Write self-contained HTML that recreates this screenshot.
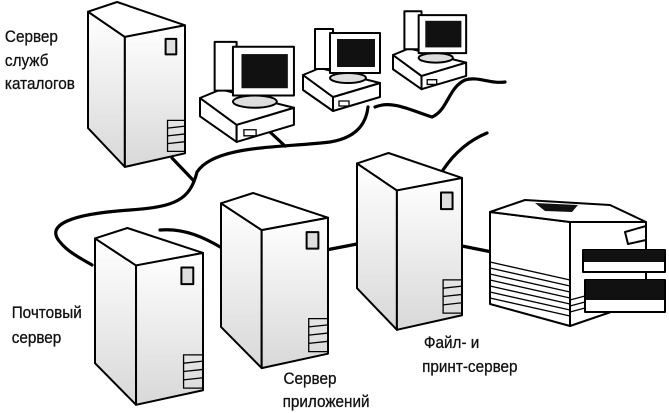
<!DOCTYPE html>
<html><head><meta charset="utf-8"><style>
html,body{margin:0;padding:0;background:#fff;}
svg{display:block;}
text{font-family:"Liberation Sans",Arial,sans-serif;font-size:17px;fill:#111;stroke:#111;stroke-width:0.3;}
.s{stroke:#000;stroke-width:2;fill:#fff;vector-effect:non-scaling-stroke;stroke-linejoin:round;}
.t{stroke:#000;stroke-width:1.3;fill:none;vector-effect:non-scaling-stroke;}
.c{stroke:#000;stroke-width:3.2;fill:none;stroke-linecap:round;}
</style></head><body>
<svg width="669" height="413" viewBox="0 0 669 413" xmlns="http://www.w3.org/2000/svg">
<defs>
<linearGradient id="g" x1="0" y1="0" x2="0" y2="1"><stop offset="0" stop-color="#fff"/><stop offset="1" stop-color="#d8d8d8"/></linearGradient>
<g id="tower">
<polygon class="s" points="0,10 38,36 38,170 0,130" style="fill:url(#g)"/>
<polygon class="s" points="0,10 30,0 100,24 38,36"/>
<polygon class="s" points="38,36 100,24 100,156 38,170" style="fill:url(#g)"/>
<rect class="s" x="80" y="38" width="11" height="16" style="fill:#ddd"/>
<rect class="t" x="82" y="122" width="18" height="32"/>
<line class="t" x1="82" y1="130" x2="100" y2="128"/>
<line class="t" x1="82" y1="138" x2="100" y2="136"/>
<line class="t" x1="82" y1="146" x2="100" y2="144"/>
</g>
<g id="pc">
<polygon class="s" points="0,0 30,22 30,36 0,15"/>
<polygon class="s" points="30,22 77,8 77,22 30,36"/>
<polygon class="s" points="0,0 17,-7 77,8 30,22"/>
<rect class="t" x="36" y="26" width="10" height="5"/>
<ellipse cx="45" cy="3" rx="18" ry="5" class="s" style="fill:#ddd"/>
<rect class="s" x="12" y="-46" width="18" height="40"/>
<rect class="s" x="27" y="-42" width="50" height="40"/>
<rect x="34" y="-36" width="38" height="28" fill="#111"/>
</g>
</defs>

<path class="c" d="M172,158 L193,180"/>
<path class="c" d="M368,107 C366,125 355,138 330,142 C280,148 215,145 197,172 C190,200 175,207 130,210 C70,214 45,225 60,242 C68,252 80,258 92,265"/>
<path class="c" d="M270,132 L285,146"/>
<path class="c" d="M375,107 C392,100 410,110 432,117 C448,110 448,88 465,80 C478,76 490,84 505,82"/>
<path class="c" d="M160,230 C185,228 205,238 222,248"/>
<path class="c" d="M443,170 C455,152 470,140 487,133"/>
<path class="c" d="M326,250 L357,244"/>
<path class="c" d="M462,246 L492,252"/>

<use href="#tower" transform="translate(88,2) scale(0.97)"/>
<use href="#tower" transform="translate(95,228) scale(1.08,1.04)"/>
<use href="#tower" transform="translate(221,193) scale(1.07,1.03)"/>
<use href="#tower" transform="translate(357,153) scale(1.05,1.04)"/>

<use href="#pc" transform="translate(200,98) scale(1.22)"/>
<use href="#pc" transform="translate(303,75)"/>
<use href="#pc" transform="translate(393,55) scale(0.95)"/>

<polygon class="s" points="490,212 570,222 570,326 490,304"/>
<polygon class="s" points="570,222 646,222 646,300 570,326"/>
<polygon class="s" points="490,212 525,200 610,205 646,222 570,222"/>
<polygon points="535,203 578,205 572,212 545,211" fill="#111"/>
<polygon class="s" points="625,232 646,226 646,240 628,244"/>
<g stroke="#000" stroke-width="1.3">
<line x1="490" y1="262" x2="570" y2="280"/><line x1="490" y1="268" x2="570" y2="286"/>
<line x1="490" y1="274" x2="570" y2="292"/><line x1="490" y1="280" x2="570" y2="298"/>
<line x1="490" y1="286" x2="570" y2="304"/><line x1="490" y1="292" x2="570" y2="310"/>
<line x1="490" y1="298" x2="570" y2="316"/><line x1="570" y1="300" x2="600" y2="292"/>
<line x1="570" y1="306" x2="600" y2="298"/><line x1="570" y1="312" x2="600" y2="304"/>
</g>
<polygon class="s" points="583,250 665,250 665,272 583,272"/>
<polygon points="584,250 664,250 664,262 584,262" fill="#111"/>
<polygon class="s" points="585,280 665,280 665,312 585,312"/>
<polygon points="586,280 664,280 664,300 586,300" fill="#111"/>

<g transform="scale(0.9,1)">
<text x="5.5" y="42">Сервер</text>
<text x="5.5" y="66">служб</text>
<text x="5.5" y="89">каталогов</text>
<text x="13" y="318">Почтовый</text>
<text x="13" y="343">сервер</text>
<text x="315" y="384">Сервер</text>
<text x="314" y="407">приложений</text>
<text x="471" y="348">Файл- и</text>
<text x="469" y="372">принт-сервер</text>
</g>
</svg>
</body></html>
